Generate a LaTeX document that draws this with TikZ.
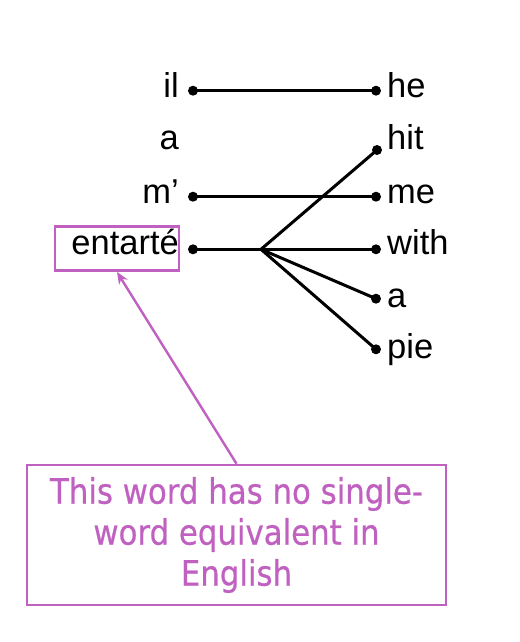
\documentclass[tikz,border=0pt]{standalone}
\usepackage{fontspec}
\setmainfont{Liberation Sans}
\newfontfamily\notefont[FakeStretch=0.88,FakeBold=0.6]{DejaVu Sans}
\usetikzlibrary{arrows.meta}
\definecolor{orchidc}{HTML}{C060C0}
\tikzset{
  lword/.style={anchor=base east, inner sep=0pt, font=\fontsize{34.5}{34.5}\selectfont},
  rword/.style={anchor=base west, inner sep=0pt, font=\fontsize{34.5}{34.5}\selectfont},
  dotn/.style={circle, fill=black, inner sep=0pt, minimum size=10pt},
  link/.style={line width=3pt},
  purplebox/.style={draw=orchidc, line width=2.6pt, inner sep=0pt},
}
\begin{document}
\begin{tikzpicture}[x=1pt,y=-1pt]
\useasboundingbox (0,0) rectangle (519,642);
% left words
\node[lword] (il) at (179,97) {il};
\node[lword] (la) at (179,149) {a};
\node[lword] (lm) at (179,203) {m’};
\node[lword] (le) at (179,254) {entarté};
% right words
\node[rword] (he) at (387,97) {he};
\node[rword] (hit) at (387,149) {hit};
\node[rword] (me) at (387,203) {me};
\node[rword] (with) at (387,254) {with};
\node[rword] (ra) at (387,307) {a};
\node[rword] (pie) at (387,358) {pie};
% dots
\node[dotn] (dil) at (193,90.7) {};
\node[dotn] (dm) at (193,196.7) {};
\node[dotn] (de) at (193,249.3) {};
\node[dotn] (dhe) at (376,90.7) {};
\node[dotn] (dhit) at (377,150) {};
\node[dotn] (dme) at (376,196.7) {};
\node[dotn] (dwith) at (376,249.3) {};
\node[dotn] (da) at (376,298.7) {};
\node[dotn] (dpie) at (376,349.3) {};
\coordinate (br) at (261,249.3);
% links
\draw[link] (dil.center) -- (dhe.center);
\draw[link] (dm.center) -- (dme.center);
\draw[link] (de.center) -- (br) -- (dwith.center);
\draw[link] (br) -- (dhit.center);
\draw[link] (br) -- (da.center);
\draw[link] (br) -- (dpie.center);
% entarte box
\node[purplebox, minimum width=124pt, minimum height=44pt] (ebox) at (117,248.7) {};
% note box
\node[purplebox, minimum width=419pt, minimum height=140pt, text=orchidc, align=center,
      font=\notefont\fontsize{35}{41}\selectfont] (note) at (236.5,535)
  {This word has no single-\\word equivalent in\\English};
\draw[orchidc, line width=2.4pt, -{Stealth[length=12pt,width=10pt]}] (note.north) -- (ebox.south);
\end{tikzpicture}
\end{document}
